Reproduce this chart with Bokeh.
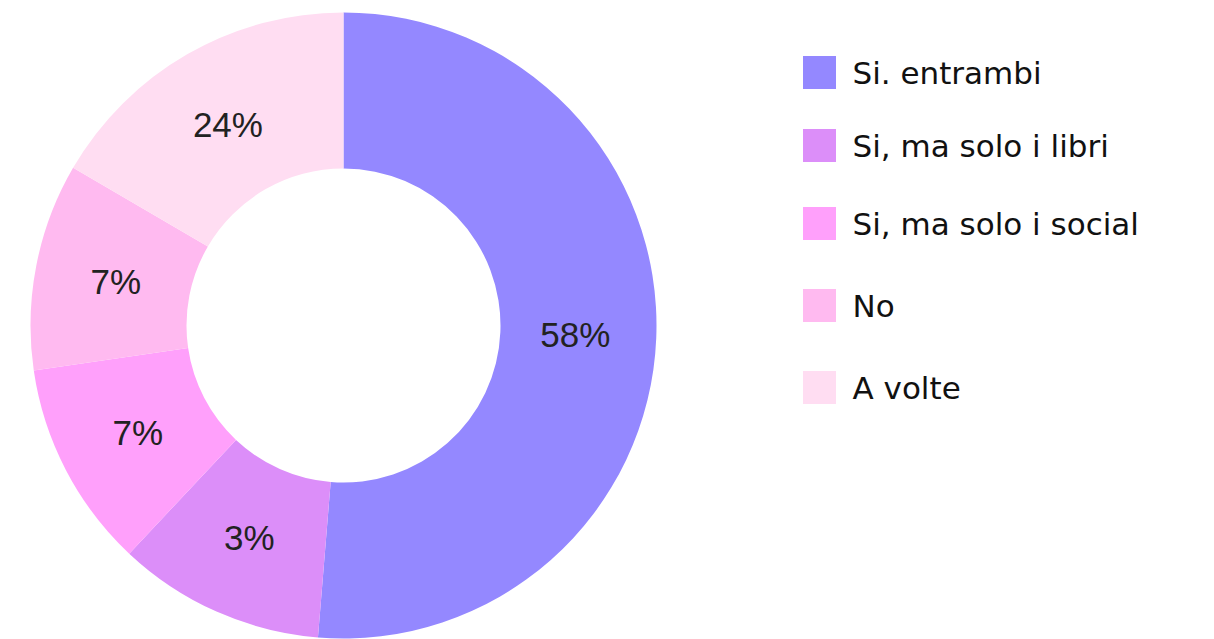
import numpy as np
from bokeh.plotting import figure
from bokeh.models import Range1d, ColumnDataSource
from bokeh.core.properties import value
from bokeh.embed import file_html
from bokeh.resources import INLINE

categories = ["Si. entrambi", "Si, ma solo i libri", "Si, ma solo i social", "No", "A volte"]
pct_labels = ["58%", "3%", "7%", "7%", "24%"]
shares = [51.3, 10.7, 10.7, 10.7, 16.6]
colors = ["#9488FF", "#DC8EF9", "#FFA0FB", "#FFBAF0", "#FFDDF2"]

W, H = 1214, 639
p = figure(width=W, height=H, output_backend="svg", toolbar_location=None,
           x_range=Range1d(0, W), y_range=Range1d(H, 0), min_border=0)
p.axis.visible = False
p.grid.visible = False
p.outline_line_color = None
p.background_fill_color = "white"

cx, cy, r_out, r_in = 343, 325, 313, 157
frac = np.array(shares) / sum(shares)
cum = np.concatenate([[0], np.cumsum(frac)])
theta0 = cum[:-1] * 2 * np.pi
theta1 = cum[1:] * 2 * np.pi
# clockwise from 12 o'clock (angles are drawn in screen orientation)
start = np.pi / 2 - theta0
end = np.pi / 2 - theta1
src = ColumnDataSource(dict(start=list(start), end=list(end), color=colors))
p.annular_wedge(x=cx, y=cy, inner_radius=r_in, outer_radius=r_out,
                start_angle="start", end_angle="end", direction="clock",
                fill_color="color", line_color=None, source=src)

mid = (theta0 + theta1) / 2
r_lab = 232
lx = cx + r_lab * np.sin(mid)
ly = cy - r_lab * np.cos(mid)
p.text(x=list(lx), y=list(ly), text=pct_labels, text_align="center", text_baseline="middle",
       text_font=value("Liberation Sans"), text_font_size="35px", text_color="#222222")

leg_y = [72, 145, 223, 305, 387]
p.rect(x=[819] * 5, y=leg_y, width=33, height=33, fill_color=colors, line_color=None)
p.text(x=[852] * 5, y=leg_y, text=categories, text_align="left", text_baseline="middle",
       text_font=value("DejaVu Sans"), text_font_size="31px", text_color="#111111")

open("out.html", "w").write(file_html(p, INLINE))
